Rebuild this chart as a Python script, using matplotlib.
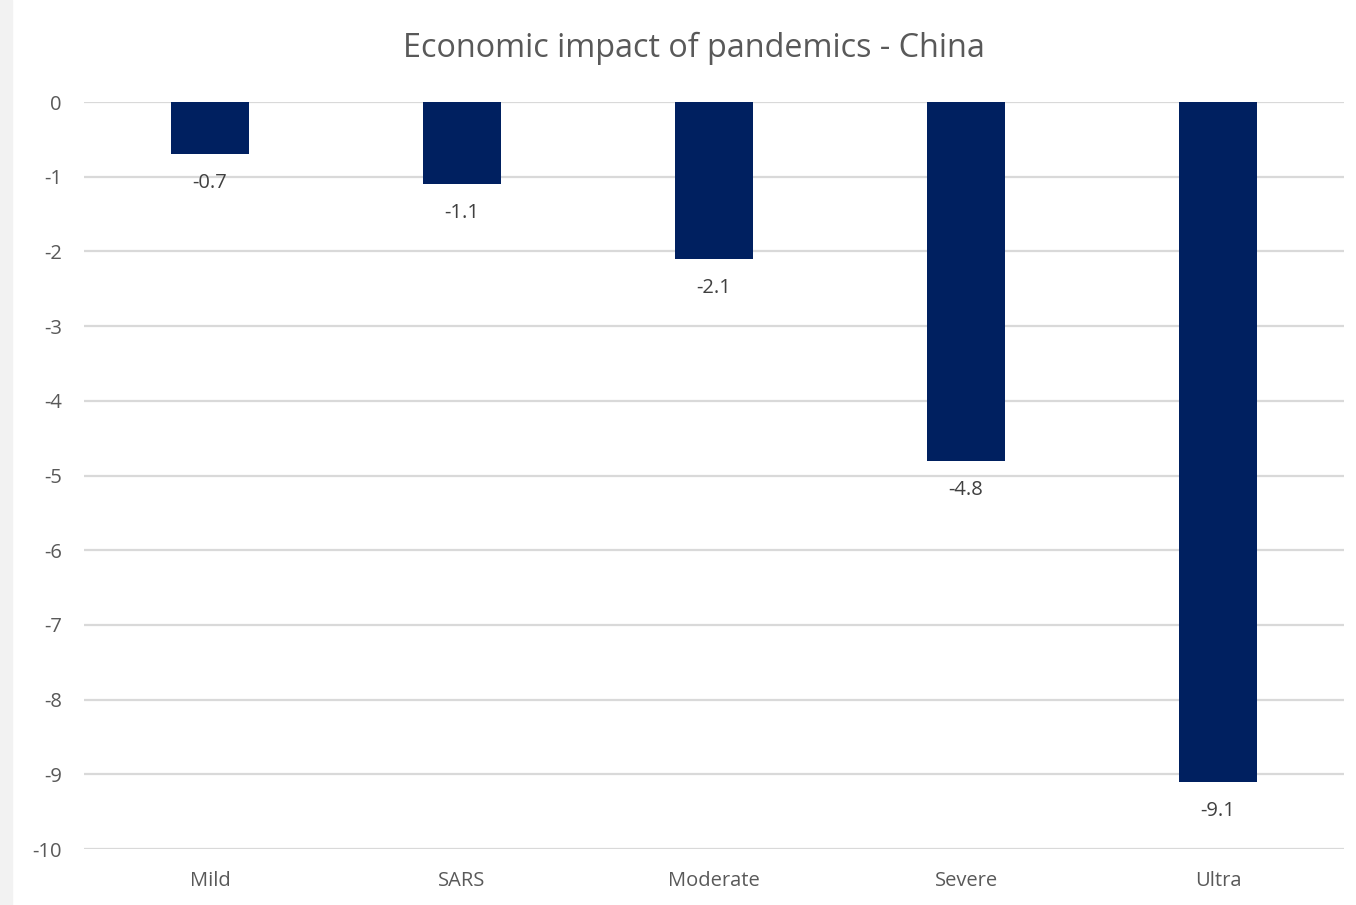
import matplotlib.pyplot as plt
from matplotlib.patches import Rectangle

scenarios = ["Mild", "SARS", "Moderate", "Severe", "Ultra"]
gdp_impact = [-0.7, -1.1, -2.1, -4.8, -9.1]
y_ticks = [0, -1, -2, -3, -4, -5, -6, -7, -8, -9, -10]

plt.rcParams['font.family'] = ['Open Sans', 'DejaVu Sans']

fig = plt.figure(figsize=(13.56, 9.05), dpi=100)
fig.patches.append(Rectangle((0, 0), 12 / 1356, 1, transform=fig.transFigure,
                             color='#f2f2f2', zorder=0))
ax = fig.add_axes([84 / 1356, 1 - 849 / 905, 1260 / 1356, 747 / 905])

x = range(len(scenarios))
ax.bar(x, gdp_impact, width=0.31, color='#002060', zorder=3)
for i, v in zip(x, gdp_impact):
    ax.annotate(f"{v}", (i, v), xytext=(0, -21), textcoords='offset points',
                ha='center', va='center', fontsize=14.5, color='#404040')

ax.set_xlim(-0.5, len(scenarios) - 0.5)
ax.set_ylim(-10, 0)
ax.set_yticks(y_ticks)
ax.set_yticklabels([str(t) for t in y_ticks])
ax.set_xticks(list(x))
ax.set_xticklabels(scenarios)
ax.tick_params(axis='both', length=0, labelsize=14.5, labelcolor='#595959')
ax.tick_params(axis='y', pad=16)
ax.tick_params(axis='x', pad=16)
ax.grid(axis='y', color='#d9d9d9', linewidth=1.6, zorder=0)
for s in ax.spines.values():
    s.set_visible(False)

fig.text(694 / 1356, 1 - 48 / 905, "Economic impact of pandemics - China",
         ha='center', va='center', fontsize=23.3, color='#595959')

fig.savefig("out.png", dpi=100)
